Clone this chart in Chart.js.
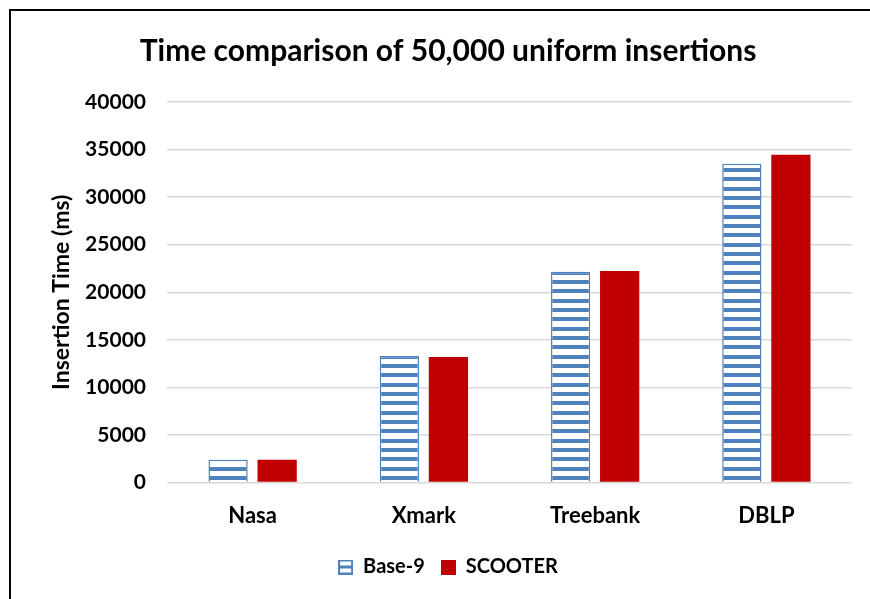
<!DOCTYPE html>
<html>
<head>
<meta charset="utf-8">
<script src="https://cdn.jsdelivr.net/npm/chart.js@4"></script>
<style>
  html, body { margin: 0; padding: 0; background: #fff; }
  #wrap { position: relative; width: 870px; height: 599px; }
  #frame { position: absolute; left: 9px; top: 9px; right: 0; bottom: 0; border-top: 2px solid #000; border-left: 2px solid #000; pointer-events: none; }
  canvas { position: absolute; left: 0; top: 0; }
</style>
</head>
<body>
<div id="wrap">
  <canvas id="c" width="870" height="599"></canvas>
  <div id="frame"></div>
</div>
<script>
const categories = ["Nasa", "Xmark", "Treebank", "DBLP"];
const base9 = [2400, 13300, 22150, 33500];
const scooter = [2400, 13200, 22250, 34450];
const seriesNames = ["Base-9", "SCOOTER"];
const titleText = "Time comparison of 50,000 uniform insertions";
const yTitle = "Insertion Time (ms)";

const BLUE = "#4F81BD";
const RED = "#C00000";
const FONT = "Lato, 'Open Sans', sans-serif";

function stripePattern() {
  const p = document.createElement("canvas");
  p.width = 4; p.height = 28;
  const g = p.getContext("2d");
  g.fillStyle = "#fff"; g.fillRect(0, 0, 4, 28);
  g.fillStyle = BLUE;
  g.fillRect(0, 0, 4, 4);
  g.fillRect(0, 9, 4, 4);
  g.fillRect(0, 19, 4, 4);
  return g.createPattern(p, "repeat");
}
const pat = stripePattern();

function legendBox() {
  const p = document.createElement("canvas");
  p.width = 15; p.height = 15;
  const g = p.getContext("2d");
  g.fillStyle = "#fff"; g.fillRect(0, 0, 15, 15);
  g.fillStyle = BLUE;
  g.fillRect(0, 0, 15, 2); g.fillRect(0, 13, 15, 2);
  g.fillRect(0, 0, 2, 15); g.fillRect(13, 0, 2, 15);
  g.fillRect(0, 6, 15, 3);
  return p;
}
function redBox() {
  const p = document.createElement("canvas");
  p.width = 15; p.height = 15;
  const g = p.getContext("2d");
  g.fillStyle = RED; g.fillRect(0, 0, 15, 15);
  return p;
}
const legendImgs = [legendBox(), redBox()];

new Chart(document.getElementById("c"), {
  type: "bar",
  data: {
    labels: categories,
    datasets: [
      { label: seriesNames[0], data: base9, backgroundColor: pat, borderColor: BLUE, borderWidth: 1.5 },
      { label: seriesNames[1], data: scooter, backgroundColor: RED, borderColor: RED, borderWidth: 0 }
    ]
  },
  options: {
    responsive: false,
    animation: false,
    devicePixelRatio: 1,
    layout: { padding: { left: 44, right: 18, top: 20, bottom: 12 } },
    datasets: { bar: { categoryPercentage: 0.573, barPercentage: 0.8 } },
    plugins: {
      title: {
        display: true, text: titleText, color: "#000",
        font: { family: FONT, size: 30, weight: "bold" },
        padding: { top: 13, bottom: 33 }
      },
      legend: {
        position: "bottom",
        labels: {
          color: "#000",
          font: { family: FONT, size: 20, weight: "bold" },
          usePointStyle: true,
          boxWidth: 15, boxHeight: 15,
          padding: 16,
          generateLabels: (chart) => chart.data.datasets.map((d, i) => ({
            text: d.label, pointStyle: legendImgs[i], datasetIndex: i,
            fillStyle: "#fff", strokeStyle: "#fff", lineWidth: 0, hidden: false
          }))
        }
      },
      tooltip: { enabled: false }
    },
    scales: {
      x: {
        grid: { display: false },
        border: { display: false },
        ticks: { color: "#000", font: { family: FONT, size: 22, weight: "bold" }, padding: 12 }
      },
      y: {
        min: 0, max: 40000,
        afterFit: (s) => { s.width = 123; },
        grid: { color: "#D9D9D9", lineWidth: 1.5, drawTicks: false },
        border: { display: false },
        ticks: {
          stepSize: 5000, color: "#000", font: { family: FONT, size: 21, weight: "bold" }, padding: 21,
          callback: (v) => String(v)
        },
        title: { display: true, text: yTitle, color: "#000", font: { family: FONT, size: 23, weight: "bold" }, padding: 4 }
      }
    }
  }
});
</script>
</body>
</html>
